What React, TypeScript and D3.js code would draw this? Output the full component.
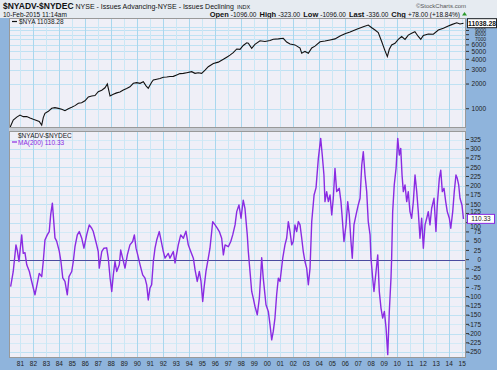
import * as React from "react";
import * as d3 from "d3";

// $NYA (NYSE Composite)
const nyaYears = [
  1980.2, 1980.45, 1980.72, 1980.97, 1981.22, 1981.49, 1981.74, 1981.99, 1982.25, 1982.45, 1982.64, 1982.76,
  1982.89, 1983.15, 1983.41, 1983.66, 1983.92, 1984.18, 1984.43, 1984.69, 1984.95, 1985.2, 1985.46, 1985.71,
  1985.97, 1986.23, 1986.49, 1986.74, 1986.99, 1987.26, 1987.51, 1987.69, 1987.9, 1988.15, 1988.41, 1988.66,
  1988.92, 1989.18, 1989.43, 1989.69, 1989.95, 1990.21, 1990.46, 1990.67, 1990.84, 1991.1, 1991.23, 1991.49,
  1991.74, 1992.0, 1992.26, 1992.51, 1992.77, 1993.03, 1993.28, 1993.54, 1993.8, 1994.18, 1994.44, 1994.69,
  1994.95, 1995.21, 1995.46, 1995.85, 1996.23, 1996.62, 1996.88, 1997.13, 1997.38, 1997.65, 1997.9, 1998.15,
  1998.42, 1998.54, 1998.8, 1999.05, 1999.44, 1999.82, 2000.21, 2000.46, 2000.85, 2001.23, 2001.49, 2001.75,
  2002.13, 2002.52, 2002.65, 2002.9, 2003.16, 2003.42, 2003.67, 2004.06, 2004.44, 2004.83, 2005.21, 2005.6,
  2005.98, 2006.37, 2006.88, 2007.39, 2007.77, 2008.04, 2008.29, 2008.54, 2008.81, 2008.93, 2009.06, 2009.24,
  2009.39, 2009.57, 2009.83, 2010.08, 2010.34, 2010.6, 2010.85, 2011.11, 2011.36, 2011.62, 2011.81, 2012.01,
  2012.39, 2012.78, 2013.16, 2013.55, 2013.93, 2014.19, 2014.58, 2014.83, 2015.1,
];
const nyaValues = [
  590, 728, 790, 838, 800, 805, 770, 743, 720, 700, 633, 780,
  879, 930, 1011, 1030, 1010, 985, 945, 1000, 1040, 1090, 1164, 1180,
  1250, 1390, 1429, 1450, 1612, 1680, 1800, 2000, 1429, 1500, 1560, 1600,
  1690, 1760, 1850, 2040, 2080, 2040, 2135, 1900, 1773, 2100, 2240, 2290,
  2340, 2415, 2440, 2470, 2480, 2577, 2680, 2700, 2750, 2828, 2700, 2750,
  2700, 2950, 3252, 3550, 3700, 4001, 4250, 4500, 4820, 5350, 5300, 5900,
  6375, 6300, 5450, 6100, 6750, 6600, 6800, 7020, 7100, 7220, 6500, 6140,
  6000, 5500, 4740, 5000, 4740, 5500, 5800, 6560, 6700, 6900, 7100, 7700,
  8200, 8600, 9300, 10000, 10465, 9700, 9100, 8500, 6560, 5800, 5100, 4320,
  5300, 6000, 6270, 7000, 7600, 7000, 7900, 8300, 8700, 7600, 7020, 7800,
  8150, 8100, 9100, 9600, 10200, 10600, 11170, 10800, 11038,
];

// MA(200) of $NYADV-$NYDEC
const maYears = [
  1980.25, 1980.45, 1980.66, 1980.76, 1980.89, 1981.1, 1981.22, 1981.35, 1981.49, 1981.69, 1981.87, 1982.12,
  1982.3, 1982.45, 1982.64, 1982.76, 1982.89, 1983.07, 1983.22, 1983.33, 1983.46, 1983.53, 1983.66, 1983.79,
  1983.99, 1984.12, 1984.26, 1984.43, 1984.61, 1984.74, 1984.95, 1985.07, 1985.2, 1985.38, 1985.53, 1985.72,
  1985.89, 1986.1, 1986.3, 1986.49, 1986.61, 1986.74, 1986.87, 1986.99, 1987.07, 1987.26, 1987.43, 1987.64,
  1987.76, 1987.9, 1988.03, 1988.15, 1988.28, 1988.41, 1988.61, 1988.72, 1988.87, 1989.05, 1989.23, 1989.43,
  1989.64, 1989.77, 1989.9, 1990.03, 1990.21, 1990.41, 1990.59, 1990.72, 1990.84, 1990.97, 1991.1, 1991.23,
  1991.36, 1991.49, 1991.69, 1991.74, 1992.0, 1992.13, 1992.38, 1992.51, 1992.77, 1992.9, 1993.15, 1993.34,
  1993.54, 1993.74, 1993.92, 1994.11, 1994.31, 1994.44, 1994.61, 1994.77, 1994.9, 1995.03, 1995.13, 1995.28,
  1995.46, 1995.59, 1995.8, 1995.98, 1996.15, 1996.31, 1996.49, 1996.62, 1996.75, 1997.0, 1997.19, 1997.34,
  1997.52, 1997.65, 1997.82, 1997.98, 1998.15, 1998.28, 1998.46, 1998.54, 1998.67, 1998.8, 1998.92, 1999.05,
  1999.23, 1999.39, 1999.57, 1999.69, 1999.9, 2000.08, 2000.21, 2000.34, 2000.46, 2000.59, 2000.72, 2000.85,
  2000.98, 2001.19, 2001.36, 2001.49, 2001.62, 2001.75, 2001.88, 2002.0, 2002.13, 2002.26, 2002.39, 2002.52,
  2002.65, 2002.77, 2002.9, 2003.03, 2003.16, 2003.29, 2003.42, 2003.6, 2003.75, 2003.93, 2004.11, 2004.23,
  2004.36, 2004.44, 2004.57, 2004.7, 2004.83, 2004.96, 2005.08, 2005.21, 2005.34, 2005.54, 2005.67, 2005.77,
  2005.9, 2006.06, 2006.19, 2006.31, 2006.44, 2006.54, 2006.67, 2006.83, 2007.0, 2007.14, 2007.27, 2007.39,
  2007.52, 2007.65, 2007.77, 2007.91, 2007.98, 2008.11, 2008.21, 2008.37, 2008.5, 2008.62, 2008.75, 2008.88,
  2009.01, 2009.14, 2009.27, 2009.39, 2009.52, 2009.57, 2009.65, 2009.77, 2009.91, 2010.04, 2010.16, 2010.27,
  2010.37, 2010.47, 2010.6, 2010.73, 2010.85, 2010.98, 2011.11, 2011.24, 2011.37, 2011.5, 2011.62, 2011.75,
  2011.88, 2012.01, 2012.14, 2012.27, 2012.39, 2012.52, 2012.65, 2012.83, 2012.98, 2013.08, 2013.24, 2013.35,
  2013.47, 2013.6, 2013.73, 2013.85, 2014.01, 2014.12, 2014.27, 2014.39, 2014.52, 2014.62, 2014.73, 2014.83,
  2014.98, 2015.1,
];
const maValues = [
  -73, -32, 40, 25, -5, 67, 17, 19, -14, -32, -59, -95,
  -64, -37, -46, -5, 53, 67, 76, 121, 153, 121, 59, 50,
  23, -5, -49, -59, -95, -46, -32, -5, 35, 67, 76, 58,
  31, 67, 94, 85, 76, 58, 40, 22, -23, 22, 31, 32,
  5, -49, -86, -41, -5, -32, -14, 26, 4, -23, 13, 40,
  49, 67, 31, 13, -14, -41, -50, -68, -109, -77, -68, -5,
  31, 53, 76, 67, 22, 4, 17, 4, 22, -9, 40, 67,
  58, 77, 40, 22, 4, -27, -59, -32, -59, -113, -77, -32,
  4, 31, 103, 94, 85, 76, 58, 13, 40, 35, 49, 67,
  94, 130, 148, 112, 161, 139, 67, 22, -32, -86, -104, -126,
  -149, -104, 5, -50, -122, -140, -176, -217, -194, -158, -95, -50,
  -59, 4, 40, 58, 103, 76, 40, 49, 94, 76, 103, 94,
  58, 22, -5, -23, -68, -23, 103, 175, 194, 274, 328, 283,
  229, 157, 184, 157, 175, 121, 166, 247, 184, 193, 157, 112,
  49, 94, 157, 121, 49, 4, 94, 121, 148, 166, 256, 292,
  229, 184, 103, 67, 4, -50, -86, -32, 13, -86, -131, -158,
  -140, -185, -257, -140, -50, 4, 130, 202, 247, 328, 283, 301,
  229, 184, 202, 157, 184, 130, 112, 157, 229, 184, 130, 58,
  112, 31, 94, 112, 130, 94, 139, 166, 76, 148, 220, 242,
  184, 193, 157, 130, 112, 85, 130, 184, 229, 220, 202, 166,
  148, 110,
];

const yearTicks = d3.range(1981, 2016);
const nyaTicks = [1000, 2000, 3000, 4000, 5000, 6000, 7000, 8000, 9000];
const nyaGrid = [1000, 2000, 3000, 4000, 5000, 6000, 7000, 8000, 9000, 10000];
const maTicks = d3.range(-250, 326, 25);

const nyaLast = 11038.28;
const maLast = 110.33;

const font = "'Liberation Sans', Arial, sans-serif";
const frame = "#8FB4DC";
const purple = "#8A2BE2";

export default function App() {
  const W = 497;
  const H = 370;
  const L = 9;
  const R = 466;
  const topT = 18, topB = 128;
  const botT = 131, botB = 358;

  const x = d3.scaleLinear().domain([1980.2, 2015.1]).range([10, 463.5]);
  const yTop = d3.scaleLog().domain([582, 12770]).range([topB, topT]);
  const yBot = d3.scaleLinear().domain([-266, 348]).range([botB, botT]);

  const nyaLine = d3
    .line<number>()
    .x((d, i) => x(nyaYears[i]))
    .y((d) => yTop(d));
  const maLine = d3
    .line<number>()
    .x((d, i) => x(maYears[i]))
    .y((d) => yBot(d));

  // crowded labels near the top of the log axis get a smaller size
  const nyaLabelSize = (v: number) => (v >= 7000 ? 5 : 6.5);
  const nyaLabelY = (v: number) =>
    yTop(v) + nyaLabelSize(v) * 0.36 - (v === 9000 ? 0.7 : 0);

  const boxY = yBot(maLast);
  const boxTop = boxY - 4.5;
  const boxBottom = boxY + 4.5;

  // labels squeezed by the last-value box sit just outside it
  const maLabelY = (v: number) => {
    const yy = yBot(v);
    if (yy + 2.3 > boxTop && yy < boxY) return boxTop - 0.8;
    if (yy - 2.3 < boxBottom && yy >= boxY) return boxBottom + 5.2;
    return yy + 2.3;
  };

  const vGrid = (t: number, b: number) =>
    yearTicks.map((yr) => (
      <line
        key={"v" + yr}
        x1={Math.round(x(yr)) + 0.5}
        x2={Math.round(x(yr)) + 0.5}
        y1={t}
        y2={b}
        stroke={yr % 2 === 0 ? "#A9D7EE" : "#CBE7F5"}
        strokeWidth={1}
      />
    ));

  return (
    <svg
      width={W}
      height={H}
      style={{ position: "absolute", left: 0, top: 0, fontFamily: font }}
    >
      <rect width={W} height={H} fill={frame} />
      <rect x={0} y={0} width={W} height={topT} fill="#E6EBF1" />

      {/* header */}
      <text x={3} y={9} fill="#111" fontSize={7}>
        <tspan fontWeight="bold" fontSize={8.5}>$NYADV-$NYDEC</tspan>
        <tspan dx={2}>NYSE - Issues Advancing-NYSE - Issues Declining</tspan>
        <tspan dx={3} fontSize={5.5}>INDX</tspan>
      </text>
      <text x={3} y={16.5} fill="#111" fontSize={6.5}>10-Feb-2015 11:14am</text>
      <text x={466} y={7.5} fill="#555" fontSize={6} textAnchor="end">©StockCharts.com</text>
      <text x={460} y={16.5} fill="#111" fontSize={6.5} textAnchor="end">
        <tspan fontWeight="bold" fontSize={7.5}>Open</tspan>
        <tspan dx={2}>-1096.00</tspan>
        <tspan dx={3} fontWeight="bold" fontSize={7.5}>High</tspan>
        <tspan dx={2}>-323.00</tspan>
        <tspan dx={3} fontWeight="bold" fontSize={7.5}>Low</tspan>
        <tspan dx={2}>-1096.00</tspan>
        <tspan dx={3} fontWeight="bold" fontSize={7.5}>Last</tspan>
        <tspan dx={2}>-336.00</tspan>
        <tspan dx={3} fontWeight="bold" fontSize={7.5}>Chg</tspan>
        <tspan dx={2}>+78.00 (+18.84%)</tspan>
      </text>
      <path d="M462,15.5 L464.5,12 L467,15.5 Z" fill="#2A9A2A" />

      {/* upper panel */}
      <rect x={L} y={topT} width={R - L} height={topB - topT} fill="#EFEFF7" />
      {nyaGrid.map((v) => (
        <line
          key={"h" + v}
          x1={L}
          x2={R}
          y1={Math.round(yTop(v)) + 0.5}
          y2={Math.round(yTop(v)) + 0.5}
          stroke="#BFE1F3"
        />
      ))}
      {vGrid(topT, topB)}
      <path d={nyaLine(nyaValues) || ""} fill="none" stroke="#111" strokeWidth={1.1} />
      <line x1={12} x2={17} y1={21.5} y2={21.5} stroke="#111" strokeWidth={1.2} />
      <text x={19} y={24} fontSize={6.5} fill="#222">$NYA 11038.28</text>
      <rect x={L + 0.5} y={topT + 0.5} width={R - L - 1} height={topB - topT - 1} fill="none" stroke="#999" />

      {/* lower panel */}
      <rect x={L} y={botT} width={R - L} height={botB - botT} fill="#EFEFF7" />
      {maTicks.map((v) => (
        <line
          key={"m" + v}
          x1={L}
          x2={R}
          y1={Math.round(yBot(v)) + 0.5}
          y2={Math.round(yBot(v)) + 0.5}
          stroke={v % 50 === 0 ? "#BFE1F3" : "#D3EAF6"}
        />
      ))}
      {vGrid(botT, botB)}
      <line
        x1={L}
        x2={R}
        y1={Math.round(yBot(0)) + 0.5}
        y2={Math.round(yBot(0)) + 0.5}
        stroke="#4B4BA0"
        strokeWidth={1}
      />
      <path d={maLine(maValues) || ""} fill="none" stroke={purple} strokeWidth={1.4} strokeLinejoin="round" />
      <text x={18} y={138} fontSize={6.5} fill="#222">$NYADV-$NYDEC</text>
      <line x1={12} x2={17} y1={142} y2={142} stroke={purple} strokeWidth={1.2} />
      <text x={18} y={144.5} fontSize={6.5} fill={purple}>MA(200) 110.33</text>
      <rect x={L + 0.5} y={botT + 0.5} width={R - L - 1} height={botB - botT - 1} fill="none" stroke="#999" />
      <rect x={L} y={topB} width={R - L} height={botT - topB} fill="#C8CCD4" />

      {/* right axis, upper */}
      {nyaTicks.map((v) => (
        <g key={"t" + v}>
          <line x1={R} x2={R + 3} y1={yTop(v)} y2={yTop(v)} stroke="#333" />
          <text x={486} y={nyaLabelY(v)} fontSize={nyaLabelSize(v)} fill="#222" textAnchor="end">
            {v}
          </text>
        </g>
      ))}
      <rect x={R + 1.5} y={yTop(nyaLast) - 4.5} width={29} height={9} fill="#fff" stroke="#222" />
      <text x={R + 16} y={yTop(nyaLast) + 2.4} fontSize={6.8} fontWeight="bold" fill="#111" textAnchor="middle">
        {nyaLast.toFixed(2)}
      </text>

      {/* right axis, lower */}
      {maTicks.map((v) => (
        <g key={"b" + v}>
          <line x1={R} x2={R + 3} y1={yBot(v)} y2={yBot(v)} stroke="#333" />
          <text x={481} y={maLabelY(v)} fontSize={6.5} fill="#222" textAnchor="end">{v}</text>
        </g>
      ))}
      <rect x={R + 1.5} y={boxTop} width={27} height={9} fill="#fff" stroke={purple} />
      <text x={R + 15} y={boxY + 2.4} fontSize={6.5} fill="#222" textAnchor="middle">
        {maLast.toFixed(2)}
      </text>

      {/* x axis */}
      {yearTicks.map((yr) => (
        <text
          key={"x" + yr}
          x={x(yr)}
          y={366}
          fontSize={6.5}
          fill="#222"
          textAnchor="middle"
        >
          {String(yr % 100).padStart(2, "0")}
        </text>
      ))}
    </svg>
  );
}
